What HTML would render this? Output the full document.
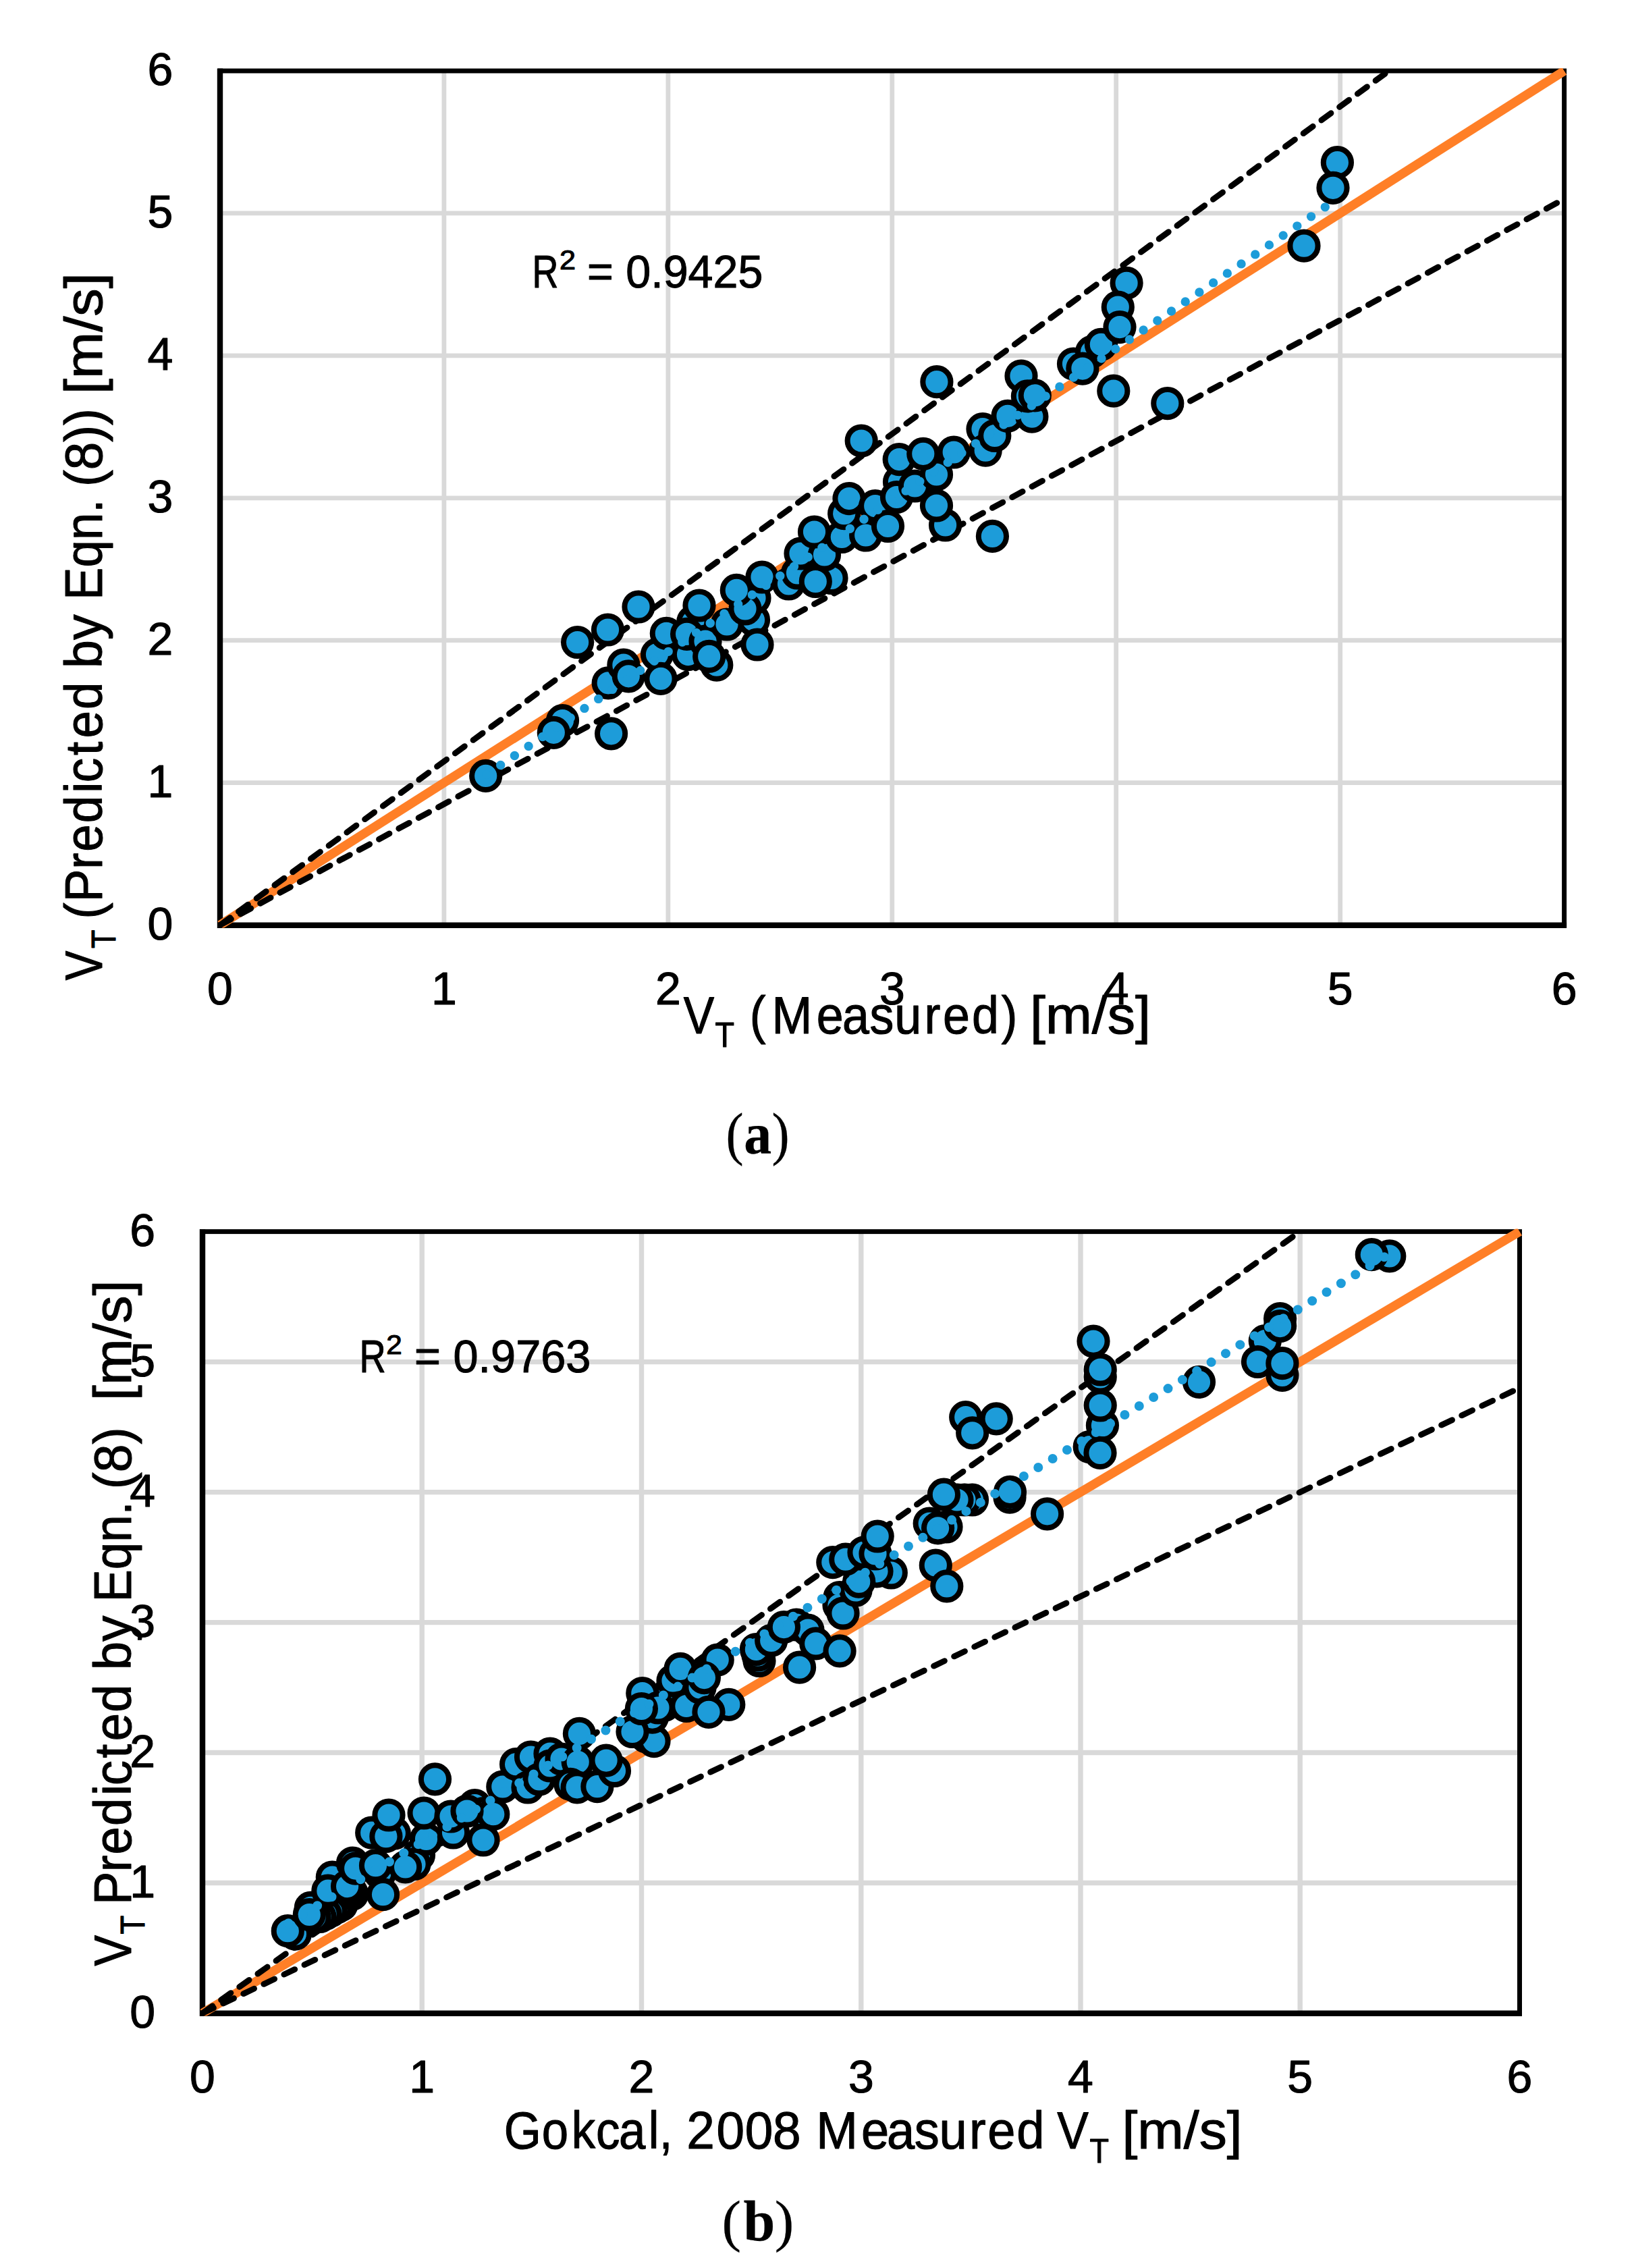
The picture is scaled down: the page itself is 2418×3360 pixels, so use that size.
<!DOCTYPE html>
<html lang="en"><head><meta charset="utf-8"><title>Figure: predicted vs measured translational velocity</title>
<style>html,body{margin:0;padding:0;background:#fff}body{width:2418px;height:3360px;overflow:hidden}svg{display:block}text{font-family:'Liberation Sans', Arial, sans-serif;fill:#000;stroke:#000;stroke-width:1.1px;stroke-linejoin:round}.serif text,text.serif{font-family:'Liberation Serif', 'Times New Roman', serif;stroke-width:0.3px}</style>
</head><body>
<svg width="2418" height="3360" viewBox="0 0 2418 3360">
<rect width="2418" height="3360" fill="#fff"/>
<g id="plotA">
<clipPath id="clipA"><rect x="322" y="101" width="2001.6" height="1273.5"/></clipPath>
<g stroke="#D9D9D9" stroke-width="6.8" fill="none">
<line x1="657.9" y1="105" x2="657.9" y2="1370.5"/>
<line x1="326" y1="1159.6" x2="2317.6" y2="1159.6"/>
<line x1="989.9" y1="105" x2="989.9" y2="1370.5"/>
<line x1="326" y1="948.7" x2="2317.6" y2="948.7"/>
<line x1="1321.8" y1="105" x2="1321.8" y2="1370.5"/>
<line x1="326" y1="737.8" x2="2317.6" y2="737.8"/>
<line x1="1653.7" y1="105" x2="1653.7" y2="1370.5"/>
<line x1="326" y1="526.8" x2="2317.6" y2="526.8"/>
<line x1="1985.7" y1="105" x2="1985.7" y2="1370.5"/>
<line x1="326" y1="315.9" x2="2317.6" y2="315.9"/>
</g>
<rect x="326" y="105" width="1991.6" height="1265.5" fill="none" stroke="#000" stroke-width="7"/>
<path d="M326 101.5V1370.8H2321.1" fill="none" stroke="#000" stroke-width="8.4" stroke-linejoin="miter"/>
<g clip-path="url(#clipA)">
<line x1="326" y1="1370.5" x2="2317.6" y2="105" stroke="#FF7F27" stroke-width="13.4"/>
<g stroke="#000" stroke-width="8.8" stroke-dasharray="17.5 15.62" stroke-dashoffset="-0.8" stroke-linecap="round" fill="none">
<line x1="326" y1="1370.5" x2="2057.8" y2="105"/>
<line x1="326" y1="1370.5" x2="2317.6" y2="294.8" stroke-dasharray="17.6 15.72" stroke-dashoffset="-1.1"/>
</g>
</g>
<g fill="#1D9CD9" stroke="#000" stroke-width="8">
<circle cx="719.7" cy="1149.4" r="20.6"/>
<circle cx="833.5" cy="1067.6" r="20.6"/>
<circle cx="820.3" cy="1085.3" r="20.6"/>
<circle cx="905.6" cy="1086.8" r="20.6"/>
<circle cx="855.6" cy="951.5" r="20.6"/>
<circle cx="900.5" cy="933" r="20.6"/>
<circle cx="946" cy="899" r="20.6"/>
<circle cx="901.2" cy="1011.8" r="20.6"/>
<circle cx="923.9" cy="985.2" r="20.6"/>
<circle cx="931.3" cy="1001.8" r="20.6"/>
<circle cx="973.5" cy="969.6" r="20.6"/>
<circle cx="979" cy="1005.4" r="20.6"/>
<circle cx="1019.5" cy="969.6" r="20.6"/>
<circle cx="1026.8" cy="920.9" r="20.6"/>
<circle cx="1036" cy="897" r="20.6"/>
<circle cx="987.3" cy="938.3" r="20.6"/>
<circle cx="1017.6" cy="939.3" r="20.6"/>
<circle cx="1045" cy="950" r="20.6"/>
<circle cx="1061.8" cy="985.2" r="20.6"/>
<circle cx="1050.7" cy="972.4" r="20.6"/>
<circle cx="1116.5" cy="918.5" r="20.6"/>
<circle cx="1118" cy="886" r="20.6"/>
<circle cx="1077" cy="925" r="20.6"/>
<circle cx="1104" cy="902" r="20.6"/>
<circle cx="1091.3" cy="874.4" r="20.6"/>
<circle cx="1122" cy="955" r="20.6"/>
<circle cx="1129" cy="855" r="20.6"/>
<circle cx="1168.5" cy="865" r="20.6"/>
<circle cx="1181.5" cy="849" r="20.6"/>
<circle cx="1232" cy="856.5" r="20.6"/>
<circle cx="1208.3" cy="861.5" r="20.6"/>
<circle cx="1186" cy="820" r="20.6"/>
<circle cx="1221.5" cy="822" r="20.6"/>
<circle cx="1206.5" cy="788" r="20.6"/>
<circle cx="1247.3" cy="795.5" r="20.6"/>
<circle cx="1282.7" cy="793" r="20.6"/>
<circle cx="1250.7" cy="760.7" r="20.6"/>
<circle cx="1258" cy="738.6" r="20.6"/>
<circle cx="1296.7" cy="749.6" r="20.6"/>
<circle cx="1315.5" cy="779.5" r="20.6"/>
<circle cx="1332.5" cy="714" r="20.6"/>
<circle cx="1328.5" cy="736.5" r="20.6"/>
<circle cx="1355.5" cy="720" r="20.6"/>
<circle cx="1400.6" cy="778" r="20.6"/>
<circle cx="1387.5" cy="749" r="20.6"/>
<circle cx="1387.5" cy="703" r="20.6"/>
<circle cx="1276.2" cy="653" r="20.6"/>
<circle cx="1332.2" cy="680.6" r="20.6"/>
<circle cx="1367.8" cy="672.3" r="20.6"/>
<circle cx="1413.2" cy="670" r="20.6"/>
<circle cx="1387.9" cy="565.7" r="20.6"/>
<circle cx="1456" cy="635.6" r="20.6"/>
<circle cx="1460.2" cy="667.2" r="20.6"/>
<circle cx="1473.8" cy="645.5" r="20.6"/>
<circle cx="1493" cy="616.3" r="20.6"/>
<circle cx="1528.9" cy="617.2" r="20.6"/>
<circle cx="1513" cy="557" r="20.6"/>
<circle cx="1522.4" cy="586.9" r="20.6"/>
<circle cx="1533.3" cy="585.8" r="20.6"/>
<circle cx="1590.5" cy="539" r="20.6"/>
<circle cx="1617.6" cy="521.3" r="20.6"/>
<circle cx="1603.9" cy="546.1" r="20.6"/>
<circle cx="1631.4" cy="510.3" r="20.6"/>
<circle cx="1669.1" cy="419.3" r="20.6"/>
<circle cx="1656.3" cy="455.1" r="20.6"/>
<circle cx="1659" cy="484.6" r="20.6"/>
<circle cx="1649.8" cy="579.2" r="20.6"/>
<circle cx="1729.8" cy="597.6" r="20.6"/>
<circle cx="1470.4" cy="794.4" r="20.6"/>
<circle cx="1932" cy="364.2" r="20.6"/>
<circle cx="1981.4" cy="240.7" r="20.6"/>
<circle cx="1975" cy="278.3" r="20.6"/>
</g>
<line x1="721" y1="1147.5" x2="1969.1" y2="302.9" stroke="#1D9CD9" stroke-width="13.4" stroke-linecap="round" stroke-dasharray="0 25"/>
</g>
<g font-size="68" text-anchor="middle">
<text x="237.4" y="1391.9">0</text>
<text x="237.4" y="1181">1</text>
<text x="237.4" y="970.1">2</text>
<text x="237.4" y="759.1">3</text>
<text x="237.4" y="548.2">4</text>
<text x="237.4" y="337.3">5</text>
<text x="237.4" y="126.4">6</text>
<text x="326" y="1488.3">0</text>
<text x="657.9" y="1488.3">1</text>
<text x="989.9" y="1488.3">2</text>
<text x="1321.8" y="1488.3">3</text>
<text x="1653.7" y="1488.3">4</text>
<text x="1985.7" y="1488.3">5</text>
<text x="2317.6" y="1488.3">6</text>
</g>
<text x="788.6" y="425.8" font-size="67.7" textLength="38.9" lengthAdjust="spacingAndGlyphs">R</text>
<text x="828.9" y="398.8" font-size="40.4" textLength="24" lengthAdjust="spacingAndGlyphs">2</text>
<text x="870.1" y="426.2" font-size="68.6" textLength="260.3" lengthAdjust="spacingAndGlyphs">= 0.9425</text>
<text x="1012.8" y="1531" font-size="77" textLength="45.5" lengthAdjust="spacingAndGlyphs">V</text>
<text x="1059.5" y="1550.7" font-size="50.9" textLength="28.5" lengthAdjust="spacingAndGlyphs">T</text>
<text transform="scale(0.9316 1)" x="1192.4 1227.4 1298.6 1339.5 1383 1422.7 1470.1 1499.6 1545.7 1592.3" y="1531" font-size="77">(Measured)</text>
<text x="1526.1" y="1531" font-size="77" textLength="178.9" lengthAdjust="spacingAndGlyphs">[m/s]</text>
<g transform="translate(150.8 0) rotate(-90)">
<text x="-1452.2" y="0" font-size="77" textLength="43.7" lengthAdjust="spacingAndGlyphs">V</text>
<text x="-1404.9" y="20" font-size="50.2" textLength="27.5" lengthAdjust="spacingAndGlyphs">T</text>
<text transform="scale(0.9445 1)" x="-1441.4 -1414.7 -1363.5 -1336 -1291 -1243.8 -1227.3 -1184.7 -1157.8 -1112.7" y="0" font-size="77">(Predicted</text>
<text x="-989.9" y="0" font-size="77" textLength="79.7" lengthAdjust="spacingAndGlyphs">by</text>
<text x="-888.9" y="0" font-size="77" textLength="149.4" lengthAdjust="spacingAndGlyphs">Eqn.</text>
<text x="-721.1" y="0" font-size="77" textLength="115.9" lengthAdjust="spacingAndGlyphs">(8))</text>
<text x="-584.1" y="0" font-size="77" textLength="179.9" lengthAdjust="spacingAndGlyphs">[m/s]</text>
</g>
<g class="serif">
<text x="1075.6" y="1708.5" font-size="86" textLength="26.1" lengthAdjust="spacingAndGlyphs">(</text>
<text x="1102.2" y="1708.5" font-size="86" textLength="40.9" lengthAdjust="spacingAndGlyphs" font-weight="bold">a</text>
<text x="1143.6" y="1708.5" font-size="86" textLength="26.1" lengthAdjust="spacingAndGlyphs">)</text>
</g>
<g id="plotB">
<clipPath id="clipB"><rect x="296" y="1820.6" width="1961.5" height="1165.9"/></clipPath>
<g stroke="#D9D9D9" stroke-width="7.4" fill="none">
<line x1="625.2" y1="1824.6" x2="625.2" y2="2982.5"/>
<line x1="300" y1="2789.5" x2="2251.5" y2="2789.5"/>
<line x1="950.5" y1="1824.6" x2="950.5" y2="2982.5"/>
<line x1="300" y1="2596.5" x2="2251.5" y2="2596.5"/>
<line x1="1275.8" y1="1824.6" x2="1275.8" y2="2982.5"/>
<line x1="300" y1="2403.6" x2="2251.5" y2="2403.6"/>
<line x1="1601" y1="1824.6" x2="1601" y2="2982.5"/>
<line x1="300" y1="2210.6" x2="2251.5" y2="2210.6"/>
<line x1="1926.2" y1="1824.6" x2="1926.2" y2="2982.5"/>
<line x1="300" y1="2017.6" x2="2251.5" y2="2017.6"/>
</g>
<rect x="300" y="1824.6" width="1951.5" height="1157.9" fill="none" stroke="#000" stroke-width="7"/>
<path d="M300 1821.1V2982.8H2255" fill="none" stroke="#000" stroke-width="8.4" stroke-linejoin="miter"/>
<g clip-path="url(#clipB)">
<line x1="300" y1="2982.5" x2="2251.5" y2="1824.6" stroke="#FF7F27" stroke-width="13.4"/>
<g stroke="#000" stroke-width="8.8" stroke-dasharray="17.6 15.7" stroke-dashoffset="-0.6" stroke-linecap="round" fill="none">
<line x1="300" y1="2982.5" x2="1926.2" y2="1824.6"/>
<line x1="300" y1="2982.5" x2="2251.5" y2="2056.2"/>
</g>
</g>
<g fill="#1D9CD9" stroke="#000" stroke-width="8">
<circle cx="506" cy="2822" r="20.6"/>
<circle cx="498" cy="2826.5" r="20.6"/>
<circle cx="490" cy="2831" r="20.6"/>
<circle cx="482" cy="2835.5" r="20.6"/>
<circle cx="474" cy="2839.5" r="20.6"/>
<circle cx="466" cy="2840.5" r="20.6"/>
<circle cx="522" cy="2806" r="20.6"/>
<circle cx="519" cy="2801" r="20.6"/>
<circle cx="516" cy="2797" r="20.6"/>
<circle cx="437.4" cy="2865.2" r="20.6"/>
<circle cx="426.3" cy="2860.7" r="20.6"/>
<circle cx="460.3" cy="2826.3" r="20.6"/>
<circle cx="458.3" cy="2836.5" r="20.6"/>
<circle cx="492.3" cy="2781.1" r="20.6"/>
<circle cx="485.9" cy="2801.2" r="20.6"/>
<circle cx="514.6" cy="2794.6" r="20.6"/>
<circle cx="522.5" cy="2760.2" r="20.6"/>
<circle cx="526.7" cy="2768.1" r="20.6"/>
<circle cx="563" cy="2774.7" r="20.6"/>
<circle cx="556.5" cy="2763.7" r="20.6"/>
<circle cx="567.5" cy="2806.7" r="20.6"/>
<circle cx="550.7" cy="2715.2" r="20.6"/>
<circle cx="584.3" cy="2716" r="20.6"/>
<circle cx="571.9" cy="2720.7" r="20.6"/>
<circle cx="576" cy="2689" r="20.6"/>
<circle cx="620.5" cy="2748.2" r="20.6"/>
<circle cx="614" cy="2761.5" r="20.6"/>
<circle cx="600.6" cy="2765.9" r="20.6"/>
<circle cx="631.5" cy="2724.5" r="20.6"/>
<circle cx="628.1" cy="2686" r="20.6"/>
<circle cx="644.5" cy="2635.8" r="20.6"/>
<circle cx="671.5" cy="2715" r="20.6"/>
<circle cx="668" cy="2691" r="20.6"/>
<circle cx="703.5" cy="2674.5" r="20.6"/>
<circle cx="716" cy="2686.5" r="20.6"/>
<circle cx="730.8" cy="2687.7" r="20.6"/>
<circle cx="692" cy="2683" r="20.6"/>
<circle cx="716" cy="2726" r="20.6"/>
<circle cx="744.8" cy="2647" r="20.6"/>
<circle cx="764.6" cy="2613.7" r="20.6"/>
<circle cx="782" cy="2648" r="20.6"/>
<circle cx="786.5" cy="2603" r="20.6"/>
<circle cx="799" cy="2636" r="20.6"/>
<circle cx="815" cy="2598" r="20.6"/>
<circle cx="815" cy="2616" r="20.6"/>
<circle cx="832" cy="2606" r="20.6"/>
<circle cx="856.2" cy="2610.3" r="20.6"/>
<circle cx="845" cy="2643.4" r="20.6"/>
<circle cx="855.1" cy="2647.8" r="20.6"/>
<circle cx="858.4" cy="2568.4" r="20.6"/>
<circle cx="884.9" cy="2646.7" r="20.6"/>
<circle cx="910.5" cy="2623.5" r="20.6"/>
<circle cx="898.1" cy="2608.1" r="20.6"/>
<circle cx="957.7" cy="2573" r="20.6"/>
<circle cx="969" cy="2579.6" r="20.6"/>
<circle cx="966.5" cy="2544.1" r="20.6"/>
<circle cx="937" cy="2565.5" r="20.6"/>
<circle cx="984" cy="2526.5" r="20.6"/>
<circle cx="993" cy="2506.6" r="20.6"/>
<circle cx="951.8" cy="2508.5" r="20.6"/>
<circle cx="975" cy="2530" r="20.6"/>
<circle cx="950.4" cy="2531.5" r="20.6"/>
<circle cx="997" cy="2490" r="20.6"/>
<circle cx="1008.1" cy="2472.4" r="20.6"/>
<circle cx="1016.9" cy="2527.5" r="20.6"/>
<circle cx="1063.2" cy="2459.1" r="20.6"/>
<circle cx="1037" cy="2500" r="20.6"/>
<circle cx="1043.4" cy="2485.6" r="20.6"/>
<circle cx="1079.8" cy="2525.3" r="20.6"/>
<circle cx="1050" cy="2536.3" r="20.6"/>
<circle cx="1125" cy="2460.5" r="20.6"/>
<circle cx="1123" cy="2452" r="20.6"/>
<circle cx="1120.4" cy="2443.5" r="20.6"/>
<circle cx="1142.7" cy="2430.4" r="20.6"/>
<circle cx="1180" cy="2407" r="20.6"/>
<circle cx="1197" cy="2415" r="20.6"/>
<circle cx="1161.4" cy="2410.6" r="20.6"/>
<circle cx="1184.6" cy="2470.2" r="20.6"/>
<circle cx="1208.8" cy="2434.9" r="20.6"/>
<circle cx="1244.1" cy="2445.9" r="20.6"/>
<circle cx="1244" cy="2366.5" r="20.6"/>
<circle cx="1243" cy="2378" r="20.6"/>
<circle cx="1249" cy="2390" r="20.6"/>
<circle cx="1320.3" cy="2330" r="20.6"/>
<circle cx="1299" cy="2327.8" r="20.6"/>
<circle cx="1268" cy="2356" r="20.6"/>
<circle cx="1272.7" cy="2343.2" r="20.6"/>
<circle cx="1233.8" cy="2314.6" r="20.6"/>
<circle cx="1252.8" cy="2310.2" r="20.6"/>
<circle cx="1280" cy="2300" r="20.6"/>
<circle cx="1297" cy="2302" r="20.6"/>
<circle cx="1300.2" cy="2276" r="20.6"/>
<circle cx="1386.3" cy="2319" r="20.6"/>
<circle cx="1402.8" cy="2349.9" r="20.6"/>
<circle cx="1377.2" cy="2257" r="20.6"/>
<circle cx="1402" cy="2262" r="20.6"/>
<circle cx="1389.6" cy="2263.8" r="20.6"/>
<circle cx="1440.5" cy="2222" r="20.6"/>
<circle cx="1429" cy="2222" r="20.6"/>
<circle cx="1418" cy="2222" r="20.6"/>
<circle cx="1398.4" cy="2214.2" r="20.6"/>
<circle cx="1496" cy="2218.2" r="20.6"/>
<circle cx="1496.5" cy="2210.3" r="20.6"/>
<circle cx="1551.6" cy="2242.8" r="20.6"/>
<circle cx="1430.7" cy="2099.6" r="20.6"/>
<circle cx="1476.2" cy="2101.8" r="20.6"/>
<circle cx="1440.7" cy="2122.8" r="20.6"/>
<circle cx="1614.2" cy="2143.5" r="20.6"/>
<circle cx="1633.4" cy="2111.7" r="20.6"/>
<circle cx="1630" cy="2152.4" r="20.6"/>
<circle cx="1630.2" cy="2082" r="20.6"/>
<circle cx="1630.2" cy="2040" r="20.6"/>
<circle cx="1630.2" cy="2029" r="20.6"/>
<circle cx="1620" cy="1987.1" r="20.6"/>
<circle cx="1776.5" cy="2047.4" r="20.6"/>
<circle cx="1874.3" cy="1986.6" r="20.6"/>
<circle cx="1896.6" cy="1953.5" r="20.6"/>
<circle cx="1896.6" cy="1964.6" r="20.6"/>
<circle cx="1863.5" cy="2017.5" r="20.6"/>
<circle cx="1899.9" cy="2037.4" r="20.6"/>
<circle cx="1899.9" cy="2019.7" r="20.6"/>
<circle cx="2058.8" cy="1860.9" r="20.6"/>
<circle cx="2032.3" cy="1858.7" r="20.6"/>
</g>
<line x1="427.4" y1="2849.2" x2="2056.4" y2="1859" stroke="#1D9CD9" stroke-width="14" stroke-linecap="round" stroke-dasharray="0 25"/>
</g>
<g font-size="68" text-anchor="middle">
<text x="211.2" y="3003.7">0</text>
<text x="211.2" y="2810.7">1</text>
<text x="211.2" y="2617.7">2</text>
<text x="211.2" y="2424.8">3</text>
<text x="211.2" y="2231.8">4</text>
<text x="211.2" y="2038.8">5</text>
<text x="211.2" y="1845.8">6</text>
<text x="300" y="3099.5">0</text>
<text x="625.2" y="3099.5">1</text>
<text x="950.5" y="3099.5">2</text>
<text x="1275.8" y="3099.5">3</text>
<text x="1601" y="3099.5">4</text>
<text x="1926.2" y="3099.5">5</text>
<text x="2251.5" y="3099.5">6</text>
</g>
<text x="532.4" y="2032.8" font-size="67.7" textLength="39.3" lengthAdjust="spacingAndGlyphs">R</text>
<text x="572.2" y="2005.9" font-size="40.4" textLength="23.5" lengthAdjust="spacingAndGlyphs">2</text>
<text x="614" y="2033.2" font-size="68.6" textLength="261.4" lengthAdjust="spacingAndGlyphs">= 0.9763</text>
<text transform="scale(0.9198 1)" x="811.8 872.8 920.5 960.1 996.9 1044.4 1061.9" y="3182.7" font-size="77">Gokcal,</text>
<text transform="scale(0.9710 1)" x="1047.6 1093.1 1136.6 1179.3" y="3182.7" font-size="77">2008</text>
<text transform="scale(0.9621 1)" x="1257 1326.3 1365.8 1408.1 1446.4 1492.5 1520.9 1565.5" y="3182.7" font-size="77">Measured</text>
<text x="1566.3" y="3182.7" font-size="77" textLength="46.6" lengthAdjust="spacingAndGlyphs">V</text>
<text x="1614.5" y="3204" font-size="49.8" textLength="28.5" lengthAdjust="spacingAndGlyphs">T</text>
<text x="1662.5" y="3182.7" font-size="77" textLength="178.1" lengthAdjust="spacingAndGlyphs">[m/s]</text>
<g transform="translate(194.2 0) rotate(-90)">
<text x="-2912.5" y="0" font-size="77" textLength="45.5" lengthAdjust="spacingAndGlyphs">V</text>
<text x="-2865.4" y="19.8" font-size="50.2" textLength="27.7" lengthAdjust="spacingAndGlyphs">T</text>
<text transform="scale(0.9614 1)" x="-2935.3 -2884.7 -2857.8 -2813.6 -2767.1 -2751.1 -2709 -2682.8 -2638.5" y="0" font-size="77">Predicted</text>
<text x="-2474.3" y="0" font-size="77" textLength="80.7" lengthAdjust="spacingAndGlyphs">by</text>
<text x="-2373.5" y="0" font-size="77" textLength="149.1" lengthAdjust="spacingAndGlyphs">Eqn.</text>
<text x="-2206.3" y="0" font-size="77" textLength="91.8" lengthAdjust="spacingAndGlyphs">(8)</text>
<text x="-2074.9" y="0" font-size="77" textLength="178.6" lengthAdjust="spacingAndGlyphs">[m/s]</text>
</g>
<g class="serif">
<text x="1069.5" y="3318.6" font-size="85.5" textLength="28.5" lengthAdjust="spacingAndGlyphs">(</text>
<text x="1101.6" y="3318.6" font-size="85.5" textLength="46.8" lengthAdjust="spacingAndGlyphs" font-weight="bold">b</text>
<text x="1147.7" y="3318.6" font-size="85.5" textLength="28.5" lengthAdjust="spacingAndGlyphs">)</text>
</g>
</svg></body></html>
